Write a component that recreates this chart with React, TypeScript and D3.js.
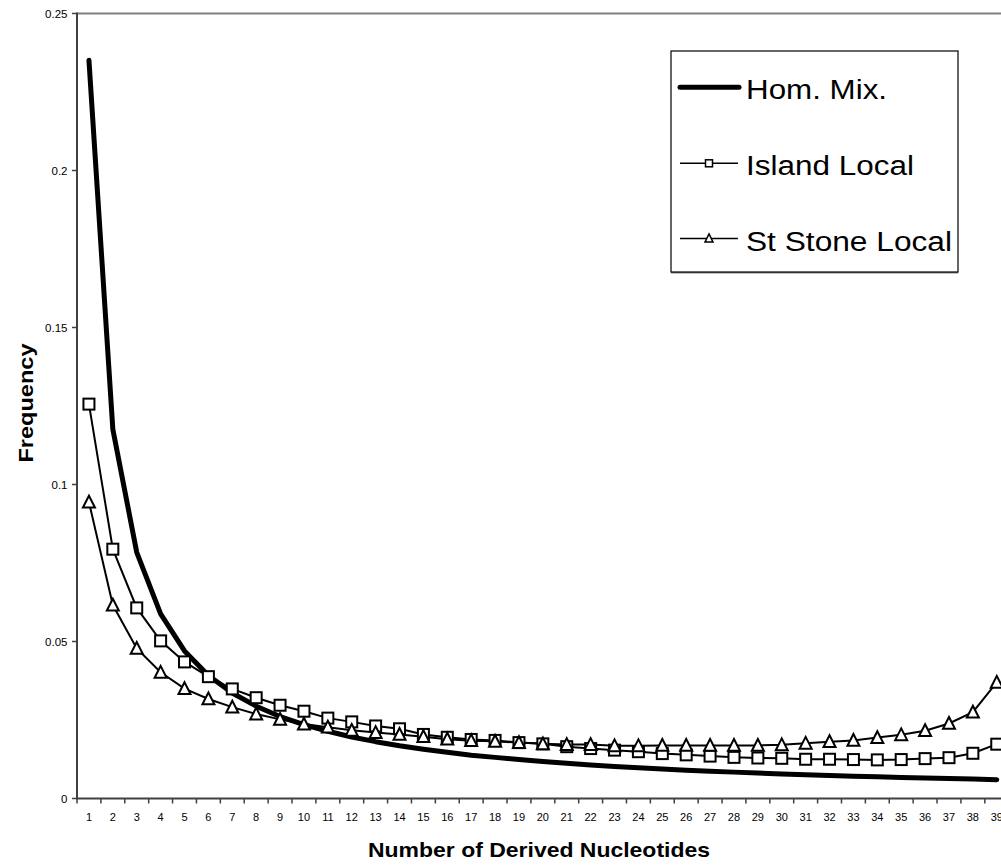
import React from "react";
import * as d3 from "d3";

// Number of derived nucleotides (site frequency classes)
const categories: number[] = Array.from({ length: 39 }, (_, i) => i + 1);

// Expected spectrum under homogeneous mixing
const homMix: number[] = [
  0.2351, 0.1176, 0.0784, 0.0588, 0.047, 0.0392, 0.0336, 0.0294, 0.0261, 0.0235,
  0.0214, 0.0196, 0.0181, 0.0168, 0.0157, 0.0147, 0.0138, 0.0131, 0.0124, 0.0118,
  0.0112, 0.0107, 0.0102, 0.0098, 0.0094, 0.009, 0.0087, 0.0084, 0.0081, 0.0078,
  0.0076, 0.0073, 0.0071, 0.0069, 0.0067, 0.0065, 0.0064, 0.0062, 0.006,
];

// Island local sampling
const islandLocal: number[] = [
  0.1256, 0.0794, 0.0607, 0.0502, 0.0435, 0.0388, 0.0349, 0.0321, 0.0297, 0.0278,
  0.0256, 0.0244, 0.0231, 0.0222, 0.0204, 0.0195, 0.0188, 0.0185, 0.0178, 0.0174,
  0.0165, 0.0159, 0.0154, 0.0149, 0.0143, 0.0139, 0.0135, 0.0131, 0.0129, 0.0128,
  0.0125, 0.0125, 0.0124, 0.0123, 0.0124, 0.0127, 0.013, 0.0144, 0.0173,
];

// Stepping-stone local sampling
const stStoneLocal: number[] = [
  0.0944, 0.0616, 0.0478, 0.0402, 0.035, 0.0317, 0.0291, 0.0269, 0.0252, 0.0237,
  0.0227, 0.0217, 0.021, 0.0204, 0.0197, 0.0189, 0.0184, 0.0182, 0.0178, 0.0174,
  0.0172, 0.0172, 0.0168, 0.0168, 0.0169, 0.0169, 0.0169, 0.0169, 0.0169, 0.0171,
  0.0176, 0.0181, 0.0185, 0.0194, 0.0203, 0.0216, 0.0239, 0.0275, 0.037,
];

const yTicks: number[] = [0, 0.05, 0.1, 0.15, 0.2, 0.25];
const yTickLabels: string[] = ["0", "0.05", "0.1", "0.15", "0.2", "0.25"];

const seriesNames: string[] = ["Hom. Mix.", "Island Local", "St Stone Local"];
const seriesNameWidths: number[] = [141, 168, 206];

const W = 1001;
const H = 867;
const left = 77;
const step = 23.89;
const top = 13.5;
const bottom = 798.5;
const font = "Arial, 'Liberation Sans', sans-serif";

export default function App() {
  const x = d3
    .scaleBand<number>()
    .domain(categories)
    .range([left, left + step * categories.length])
    .paddingInner(0)
    .paddingOuter(0);
  const y = d3.scaleLinear().domain([0, 0.25]).range([bottom, top]);
  const cx = (c: number) => (x(c) as number) + x.bandwidth() / 2;

  const line = d3
    .line<number>()
    .x((_, i) => cx(categories[i]))
    .y((d) => y(d));

  const right = left + step * categories.length;
  const sq = 11;
  const tri = (px: number, py: number, s: number) => {
    const h = s * 0.9;
    return `M${px},${py - h / 2 - 1}L${px + s / 2},${py + h / 2}L${px - s / 2},${py + h / 2}Z`;
  };

  const legendX = 671;
  const legendY = 51;
  const legendW = 287;
  const legendH = 221;
  const rowY = [87.3, 163.3, 238.5];

  return (
    <svg
      width={W}
      height={H}
      style={{ position: "absolute", left: 0, top: 0, background: "#fff" }}
      fontFamily={font}
    >
      <rect x={0} y={0} width={W} height={H} fill="#fff" />
      {/* plot area border */}
      <line x1={left} x2={right} y1={top} y2={top} stroke="#808080" strokeWidth={2} />
      <line x1={right} x2={right} y1={top} y2={bottom} stroke="#808080" strokeWidth={2} />

      {/* y axis */}
      <line x1={left} x2={left} y1={top - 1} y2={bottom + 1} stroke="#404040" strokeWidth={2} />
      {yTicks.map((t, i) => (
        <g key={`yt${i}`}>
          <line x1={left - 5} x2={left} y1={y(t)} y2={y(t)} stroke="#404040" strokeWidth={1.5} />
          <text x={67.5} y={y(t) + 4} fontSize={11.5} textAnchor="end" fill="#000">
            {yTickLabels[i]}
          </text>
        </g>
      ))}

      {/* x axis */}
      <line x1={left} x2={right} y1={bottom} y2={bottom} stroke="#404040" strokeWidth={2} />
      {categories.map((c) => (
        <line
          key={`xt${c}`}
          x1={(x(c) as number) + x.bandwidth()}
          x2={(x(c) as number) + x.bandwidth()}
          y1={bottom}
          y2={bottom + 5}
          stroke="#404040"
          strokeWidth={1.5}
        />
      ))}
      <line x1={left} x2={left} y1={bottom} y2={bottom + 5} stroke="#404040" strokeWidth={1.5} />
      {categories.map((c) => (
        <text key={`xl${c}`} x={cx(c)} y={821} fontSize={11} textAnchor="middle" fill="#000">
          {c}
        </text>
      ))}

      {/* axis titles */}
      <text
        x={539}
        y={856.5}
        fontSize={21}
        fontWeight="bold"
        textAnchor="middle"
        textLength={342}
        lengthAdjust="spacingAndGlyphs"
        fill="#000"
      >
        Number of Derived Nucleotides
      </text>
      <text
        transform={`translate(33,403) rotate(-90)`}
        fontSize={21}
        fontWeight="bold"
        textAnchor="middle"
        textLength={119}
        lengthAdjust="spacingAndGlyphs"
        fill="#000"
      >
        Frequency
      </text>

      {/* series */}
      <path d={line(homMix) || ""} fill="none" stroke="#000" strokeWidth={5} strokeLinejoin="round" strokeLinecap="round" />
      <path d={line(islandLocal) || ""} fill="none" stroke="#000" strokeWidth={2} />
      <path d={line(stStoneLocal) || ""} fill="none" stroke="#000" strokeWidth={2} />
      {islandLocal.map((v, i) => (
        <rect
          key={`sq${i}`}
          x={cx(categories[i]) - sq / 2}
          y={y(v) - sq / 2}
          width={sq}
          height={sq}
          fill="#fff"
          stroke="#000"
          strokeWidth={2}
        />
      ))}
      {stStoneLocal.map((v, i) => (
        <path key={`tr${i}`} d={tri(cx(categories[i]), y(v), 12)} fill="#fff" stroke="#000" strokeWidth={2} strokeLinejoin="miter" />
      ))}

      {/* legend */}
      <rect x={legendX} y={legendY} width={legendW} height={legendH + 1.5} fill="#808080" />
      <rect x={legendX} y={legendY} width={legendW} height={legendH} fill="#fff" stroke="#000" strokeWidth={1.2} />
      <line x1={680} x2={739} y1={rowY[0]} y2={rowY[0]} stroke="#000" strokeWidth={5} strokeLinecap="round" />
      <line x1={680} x2={738} y1={rowY[1]} y2={rowY[1]} stroke="#000" strokeWidth={1.5} />
      <rect x={705.5} y={rowY[1] - 3.5} width={7} height={7} fill="#fff" stroke="#000" strokeWidth={1.5} />
      <line x1={680} x2={738} y1={rowY[2]} y2={rowY[2]} stroke="#000" strokeWidth={1.5} />
      <path d={tri(709, rowY[2], 8)} fill="#fff" stroke="#000" strokeWidth={1.5} />
      {seriesNames.map((n, i) => (
        <text
          key={n}
          x={746}
          y={rowY[i] + 12}
          fontSize={27}
          textLength={seriesNameWidths[i]}
          lengthAdjust="spacingAndGlyphs"
          fill="#000"
        >
          {n}
        </text>
      ))}
    </svg>
  );
}
